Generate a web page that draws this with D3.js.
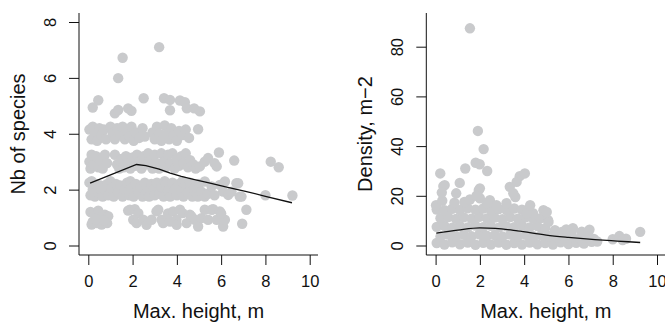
<!DOCTYPE html>
<html><head><meta charset="utf-8">
<script src="https://cdn.jsdelivr.net/npm/d3@7"></script>
<style>html,body{margin:0;padding:0;background:#fff;} svg{display:block;}</style>
</head><body><svg id="c" width="665" height="322"></svg>
<script>
const xTicks = [0, 2, 4, 6, 8, 10];
const speciesTicks = [0, 2, 4, 6, 8];
const densityTicks = [0, 20, 40, 60, 80];

// [max height (m), number of species]
const speciesPoints = [
  // ~1 species
  [0.1,1.2],[0.2,0.85],[0.3,1.1],[0.15,0.75],[0.4,0.8],[0.45,1.25],[0.55,1.0],[0.6,0.75],[0.75,1.1],[0.85,0.8],[0.9,1.05],[0.35,0.95],[0.7,0.9],
  [1.8,1.25],[1.88,1.28],[2.1,1.3],[2.26,1.16],[2.03,0.92],[2.18,0.8],[2.48,0.92],[2.63,0.74],[2.86,0.92],[3.08,1.22],[3.16,1.28],[3.31,0.92],[3.38,0.8],
  [3.69,0.86],[3.6,1.15],[3.83,1.22],[3.98,0.92],[4.14,1.28],[4.26,1.16],[3.99,0.74],[4.44,0.8],[4.59,1.1],[4.66,1.04],[4.81,0.92],[4.96,0.68],
  [5.11,0.98],[5.26,1.28],[5.57,1.28],[5.41,0.92],[5.64,1.3],[5.8,0.92],[5.94,1.22],[6.09,0.68],[6.17,0.92],[6.0,1.15],[6.95,0.78],[7.14,1.28],
  // ~2 species
  [0.05,2.25],[0.1,1.8],[0.15,2.3],[0.2,2.0],[0.3,1.75],[0.35,2.2],[0.45,1.9],[0.55,2.15],[0.6,1.95],[0.65,1.75],[0.75,2.0],[0.85,2.2],[0.9,1.8],
  [1.0,2.3],[1.05,2.05],[1.15,1.75],[1.25,2.2],[1.35,1.9],[1.45,2.15],[1.55,1.75],[1.65,2.0],[1.75,2.25],[1.85,1.8],[1.9,2.3],[1.95,2.05],
  [2.05,1.75],[2.15,2.2],[2.25,1.9],[2.35,2.1],[2.45,1.75],[2.55,2.25],[2.6,1.85],[2.65,1.95],[2.75,1.75],[2.85,2.2],[2.95,2.0],[3.0,1.8],
  [3.1,2.25],[3.2,1.85],[3.3,2.1],[3.4,1.75],[3.45,2.3],[3.5,2.2],[3.6,1.95],[3.7,1.75],[3.8,2.25],[3.9,2.0],[4.0,1.8],[4.1,2.2],[4.2,1.95],
  [4.25,2.3],[4.3,1.75],[4.4,2.15],[4.5,1.9],[4.6,2.25],[4.7,1.75],[4.8,2.05],[4.9,1.85],[4.95,1.75],[5.0,2.2],[5.11,1.93],[5.26,2.29],
  [5.26,1.75],[5.4,1.85],[5.57,2.11],[5.7,1.8],[5.94,2.17],[6.09,1.93],[6.17,2.29],[6.32,1.81],[6.47,1.93],[6.69,2.23],[6.77,2.23],[6.84,1.75],[6.92,1.75],
  [8.0,1.8],[9.22,1.79],
  // ~3 species
  [0.05,3.0],[0.1,2.75],[0.15,3.25],[0.25,2.9],[0.35,3.2],[0.45,2.8],[0.55,3.05],[0.65,2.75],[0.75,3.25],[0.85,2.95],[1.2,3.25],[1.3,2.9],
  [1.4,2.75],[1.5,3.1],[1.6,2.8],[1.7,3.2],[1.8,2.95],[1.9,2.75],[2.0,3.15],[2.1,2.85],[2.2,3.25],[2.3,3.0],[2.4,2.75],[2.5,3.2],[2.6,2.9],
  [2.7,3.3],[2.8,3.05],[2.9,2.75],[3.0,3.25],[3.1,2.95],[3.2,2.75],[3.3,3.3],[3.4,3.0],[3.5,2.8],[3.6,3.25],[3.7,2.95],[3.8,3.3],[3.9,2.75],
  [4.0,3.1],[4.1,2.85],[4.2,3.2],[4.3,2.95],[4.4,3.3],[4.5,2.8],[4.6,3.05],[4.75,2.9],[4.85,2.75],[5.04,2.83],[5.26,3.0],[5.41,3.13],
  [5.7,2.95],[5.8,2.83],[5.9,3.33],[6.59,3.04],[8.24,3.0],[8.6,2.8],
  // ~4 species
  [0.05,4.15],[0.15,3.8],[0.2,4.25],[0.3,4.0],[0.4,3.75],[0.5,4.2],[0.6,3.95],[0.7,4.15],[0.8,3.8],[1.0,4.25],[1.1,4.0],[1.2,3.8],[1.3,4.2],
  [1.45,3.95],[1.55,4.25],[1.65,3.8],[1.75,4.1],[1.85,3.9],[1.95,4.25],[2.05,3.75],[2.15,4.05],[2.3,3.85],[2.45,4.2],[2.55,3.9],
  [2.9,4.05],[3.0,3.8],[3.1,4.25],[3.2,4.0],[3.3,3.75],[3.45,4.3],[3.55,4.0],[3.65,3.8],[3.75,4.2],[3.85,3.95],[4.0,3.75],[4.1,4.1],
  [4.25,3.95],[4.4,4.15],[4.55,3.85],[4.96,4.16],
  // ~5 species and above
  [0.2,4.94],[0.45,5.2],[1.2,4.73],[1.35,4.85],[1.8,4.91],[1.95,4.82],[2.5,5.27],[3.42,5.27],[3.69,5.21],[3.69,4.84],[4.14,5.19],
  [4.36,5.13],[4.45,4.91],[4.78,4.91],[5.04,4.8],
  [1.35,5.99],[1.55,6.72],[3.2,7.1]
];

const speciesCurve = [[0.08,2.23],[2.18,2.9],[2.6,2.86],[3.2,2.73],[3.7,2.59],[4.2,2.47],[4.75,2.37],[5.5,2.23],[6.3,2.08],[7.1,1.94],[8.0,1.76],[9.2,1.53]];

// [max height (m), density (m-2)]
const densityPoints = [
  [0.05,1.0],[0.4,0.4],[0.75,1.3],[1.1,0.5],[1.45,1.2],[1.8,0.3],[2.15,1.1],[2.5,0.4],[2.85,1.2],[3.2,0.3],[3.55,1.0],[3.9,0.4],[4.25,1.2],
  [4.6,0.5],[4.95,1.0],[5.3,0.4],[5.65,1.3],[6.0,0.6],[6.35,1.1],[6.7,0.8],[7.05,1.5],[7.3,1.6],[8.0,2.5],[8.3,3.8],[8.6,2.7],[8.45,2.2],
  [0.22,3.6],[0.57,4.4],[0.92,3.8],[1.27,4.3],[1.62,3.7],[1.97,4.5],[2.32,3.9],[2.67,4.2],[3.02,3.6],[3.37,4.4],[3.72,3.8],[4.07,4.3],
  [4.42,3.7],[4.77,4.2],[5.12,3.8],[5.47,3.3],[5.82,3.1],[6.17,3.5],[6.52,2.9],[6.87,3.2],[7.15,2.6],
  [0.05,7.5],[0.4,7.9],[0.75,7.2],[1.1,7.8],[1.45,7.3],[1.8,8.0],[2.15,7.4],[2.5,7.9],[2.85,7.2],[3.2,7.7],[3.55,7.4],[3.9,8.0],[4.25,7.3],
  [4.6,7.8],[4.95,7.0],[5.39,6.2],[5.7,5.5],[5.9,6.5],[6.15,5.5],[6.2,7.0],[6.6,5.6],[6.9,5.5],[6.95,6.4],
  [0.22,11.0],[0.57,11.4],[0.92,10.7],[1.27,11.3],[1.62,10.8],[1.97,11.5],[2.32,10.9],[2.67,11.2],[3.02,10.6],[3.37,11.4],[3.72,10.8],
  [4.07,11.3],[4.42,10.7],[4.75,11.0],[5.08,10.2],[5.1,9.5],
  [0.05,14.5],[0.4,14.2],[0.75,14.8],[1.1,14.3],[1.45,15.0],[1.8,14.4],[2.15,14.9],[2.5,14.2],[2.85,14.7],[3.2,14.3],[3.55,14.9],[3.9,14.4],
  [4.2,14.6],[4.4,13.0],[4.87,14.2],[5.02,13.5],[4.12,12.9],
  [0.02,16.2],[0.3,18.0],[0.85,17.2],[1.3,17.5],[1.55,18.5],[2.0,19.0],[2.45,18.2],[2.75,16.2],[3.2,17.0],[3.6,19.5],[4.27,16.2],
  [1.55,87.4],[1.91,46.1],[2.17,38.8],[1.81,33.3],[1.99,32.7],[2.33,30.0],[1.34,31.0],[0.21,29.0],[1.09,25.2],[0.41,24.3],[0.35,23.9],
  [0.93,21.0],[0.28,21.3],[1.95,22.3],[2.0,23.0],[1.85,20.0],[3.8,27.9],[4.03,29.0],[3.66,25.6],[3.35,23.6],[3.51,21.0],[2.33,17.0],
  [9.24,5.5]
];

const densityCurve = [[0.03,5.0],[1.0,6.2],[2.0,7.1],[2.7,6.9],[3.7,5.9],[5.0,4.2],[6.0,3.3],[7.2,2.4],[8.2,1.8],[9.24,1.2]];

const FONT = "'Liberation Sans', Arial, Helvetica, sans-serif";
const svg = d3.select("#c");

function panel(o) {
  const left = o.left, right = left + 239, top = 13, bottom = 255;
  const x = d3.scaleLinear().domain([0, 10]).range([left + 9.3, left + 230.7]);
  const y = d3.scaleLinear().domain(o.yDomain).range([245.5, o.yTopPx]);
  const g = svg.append("g");

  g.append("g").selectAll("circle").data(o.points).join("circle")
    .attr("cx", d => x(d[0])).attr("cy", d => y(d[1])).attr("r", 5.2)
    .attr("fill", "#c9cacc");

  g.append("path").datum(o.curve)
    .attr("d", d3.line().x(d => x(d[0])).y(d => y(d[1])).curve(o.curveType))
    .attr("fill", "none").attr("stroke", "#111").attr("stroke-width", 1.3);

  // L-shaped frame
  g.append("path").attr("d", `M${left},${top}V${bottom}H${right}`)
    .attr("fill", "none").attr("stroke", "#111").attr("stroke-width", 1);

  const xa = g.append("g").attr("transform", `translate(0,${bottom})`)
    .call(d3.axisBottom(x).tickValues(xTicks).tickSize(10).tickFormat(d3.format("d")));
  xa.select(".domain").remove();
  xa.selectAll("line").attr("stroke", "#111");
  xa.selectAll("text").attr("y", 32).attr("dy", 0)
    .attr("font-family", FONT).attr("font-size", 16.5).attr("fill", "#111");

  const ya = g.append("g").attr("transform", `translate(${left},0)`)
    .call(d3.axisLeft(y).tickValues(o.yTicks).tickSize(10).tickFormat(d3.format("d")));
  ya.select(".domain").remove();
  ya.selectAll("line").attr("stroke", "#111");
  ya.selectAll("text").attr("x", 0).attr("dy", "0.35em")
    .attr("transform", "translate(-29,0) rotate(-90)")
    .attr("text-anchor", "middle")
    .attr("font-family", FONT).attr("font-size", 16.5).attr("fill", "#111");

  g.append("text").attr("x", (left + right) / 2).attr("y", 318.3)
    .attr("text-anchor", "middle").attr("font-family", FONT).attr("font-size", 20).attr("fill", "#111")
    .text(o.xTitle);
  g.append("text").attr("transform", `translate(${left - 61},${(top + bottom) / 2}) rotate(-90)`)
    .attr("dy", "0.35em").attr("text-anchor", "middle")
    .attr("font-family", FONT).attr("font-size", 20).attr("fill", "#111")
    .text(o.yTitle);
}

panel({left: 79, yDomain: [0, 8], yTopPx: 22, yTicks: speciesTicks, points: speciesPoints, curve: speciesCurve,
  curveType: d3.curveLinear, xTitle: "Max. height, m", yTitle: "Nb of species"});
panel({left: 426.3, yDomain: [0, 80], yTopPx: 46.7, yTicks: densityTicks, points: densityPoints, curve: densityCurve,
  curveType: d3.curveMonotoneX, xTitle: "Max. height, m", yTitle: "Density, m\u22122"});
</script>
</body></html>
